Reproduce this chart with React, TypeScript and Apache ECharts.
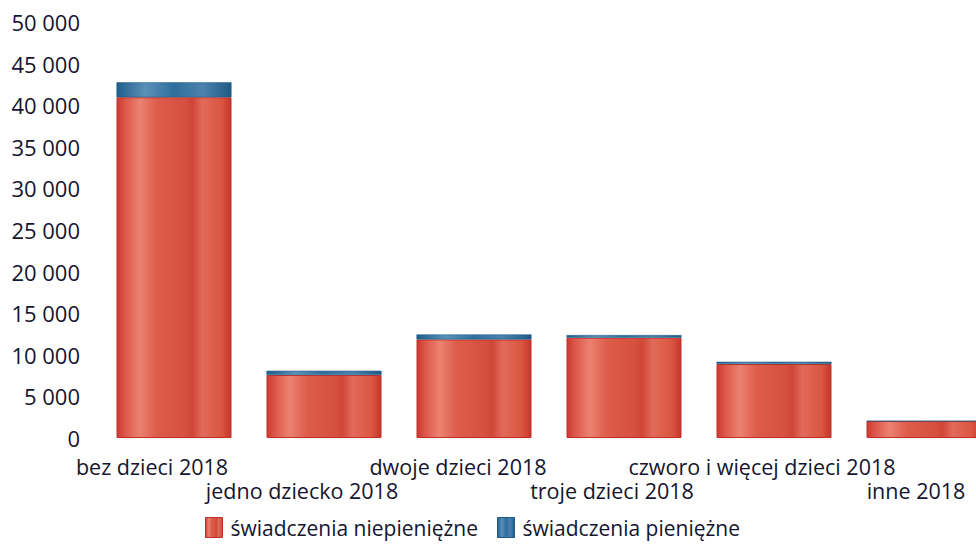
import React, { useEffect, useRef } from "react";
import * as echarts from "echarts";

const categories = [
  "bez dzieci 2018",
  "jedno dziecko 2018",
  "dwoje dzieci 2018",
  "troje dzieci 2018",
  "czworo i więcej dzieci 2018",
  "inne 2018",
];
const niepieniezne = [40950, 7570, 11850, 12050, 8890, 2040];
const pieniezne = [1800, 520, 600, 320, 280, 0];
const seriesNames = ["świadczenia niepieniężne", "świadczenia pieniężne"];
// leftward shift of each category label relative to its bar centre (px)
const labelShift = [22, 22, 16, 12, 12, 8];

const redFill = new echarts.graphic.LinearGradient(0, 0, 1, 0, [
  { offset: 0, color: "#cc3a30" },
  { offset: 0.08, color: "#de5a4c" },
  { offset: 0.2, color: "#ec8272" },
  { offset: 0.35, color: "#dd5c4a" },
  { offset: 0.6, color: "#d6503f" },
  { offset: 0.66, color: "#cf4636" },
  { offset: 0.75, color: "#e26a5a" },
  { offset: 0.92, color: "#d9563f" },
  { offset: 1, color: "#c8342c" },
]);
const blueFill = new echarts.graphic.LinearGradient(0, 0, 1, 0, [
  { offset: 0, color: "#1f5f8c" },
  { offset: 0.25, color: "#5a90b8" },
  { offset: 0.5, color: "#2f6f9c" },
  { offset: 0.75, color: "#4a82ad" },
  { offset: 1, color: "#1f5a86" },
]);

export default function App() {
  const ref = useRef<HTMLDivElement>(null);
  useEffect(() => {
    if (!ref.current) return;
    const chart = echarts.init(ref.current, undefined, { renderer: "svg" });
    const textColor = "#15152f";
    const font = "'Open Sans', 'Noto Sans', sans-serif";
    const rich: Record<string, any> = {};
    labelShift.forEach((s, i) => {
      rich["s" + i] = {
        color: textColor,
        fontSize: 21.5,
        fontFamily: font,
        lineHeight: 24,
        padding: [0, s * 2, 0, 0],
      };
    });
    chart.setOption({
      animation: false,
      backgroundColor: "#ffffff",
      grid: {
        left: 99,
        top: 22,
        width: 900,
        bottom: 108,
        containLabel: false,
        outerBoundsMode: "none",
      },
      legend: {
        left: 200,
        top: 512,
        icon: "rect",
        itemWidth: 17,
        itemHeight: 20,
        itemGap: 19,
        textStyle: { color: textColor, fontSize: 21, fontFamily: font, padding: [0, 0, 0, 3] },
        data: [
          { name: seriesNames[0], itemStyle: { color: redFill, borderColor: "#c0302a", borderWidth: 1 } },
          { name: seriesNames[1], itemStyle: { color: blueFill, borderColor: "#1f5a86", borderWidth: 1 } },
        ],
      },
      xAxis: {
        type: "category",
        data: categories,
        axisLine: { show: false },
        axisTick: { show: false },
        axisLabel: {
          interval: 0,
          color: textColor,
          fontSize: 21.5,
          fontFamily: font,
          lineHeight: 24,
          margin: 16,
          rich,
          formatter: (v: string) => {
            const i = categories.indexOf(v);
            const t = "{s" + i + "|" + v + "}";
            return i % 2 === 1 ? "\n" + t : t;
          },
        },
      },
      yAxis: {
        type: "value",
        min: 0,
        max: 50000,
        interval: 5000,
        splitLine: { show: false },
        axisLine: { show: false },
        axisTick: { show: false },
        axisLabel: {
          color: textColor,
          fontSize: 22,
          fontFamily: font,
          margin: 19,
          formatter: (v: number) => String(v).replace(/\B(?=(\d{3})+(?!\d))/g, " "),
        },
      },
      series: [
        {
          name: seriesNames[0],
          type: "bar",
          stack: "total",
          barWidth: 115,
          data: niepieniezne,
          itemStyle: { color: redFill, borderColor: "#c0302a", borderWidth: 1 },
        },
        {
          name: seriesNames[1],
          type: "bar",
          stack: "total",
          barWidth: 115,
          data: pieniezne,
          itemStyle: { color: blueFill, borderColor: "#1f5a86", borderWidth: 0.5 },
        },
      ],
    });
    return () => chart.dispose();
  }, []);
  return <div ref={ref} style={{ width: 976, height: 546, position: "absolute", left: 0, top: 0 }} />;
}
